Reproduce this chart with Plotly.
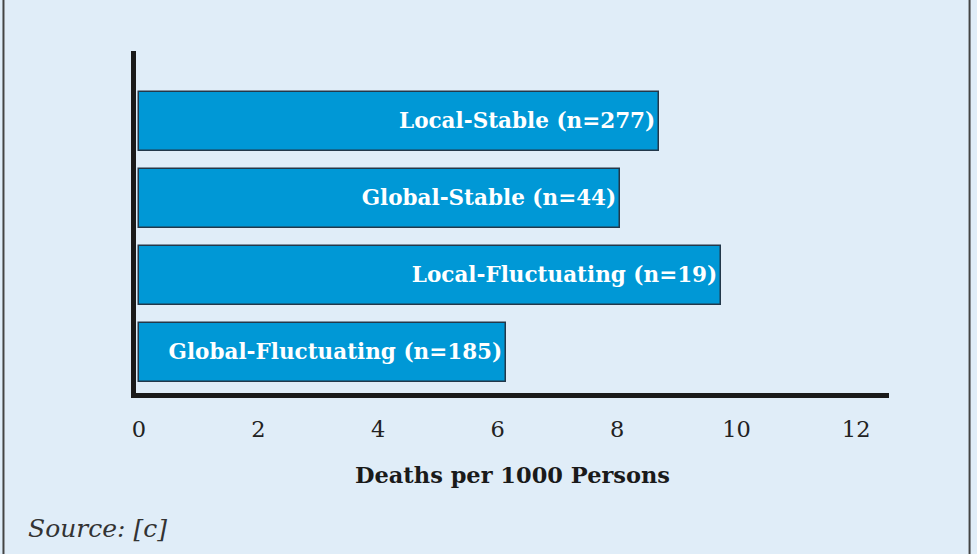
import plotly.graph_objects as go

# bar data, bottom to top as drawn
groups = ['Global-Fluctuating', 'Local-Fluctuating', 'Global-Stable', 'Local-Stable']
sizes = [185, 19, 44, 277]
deaths = [6.14, 9.74, 8.05, 8.70]
tick_vals = [0, 2, 4, 6, 8, 10, 12]

BG = '#e0edf8'
BAR = '#0098d6'
FONT = 'DejaVu Serif'

labels = [f'{g} (n={n})' for g, n in zip(groups, sizes)]

fig = go.Figure()

fig.add_trace(go.Bar(
    x=deaths,
    y=list(range(len(groups))),
    orientation='h',
    width=0.766,
    marker=dict(color=BAR, line=dict(color='#23384a', width=1.5)),
    text=labels,
    textposition='inside',
    insidetextanchor='end',
    textfont=dict(family=FONT, size=21.5, color='white', weight='bold'),
    hoverinfo='skip',
))

fig.update_layout(
    width=977, height=554,
    margin=dict(l=136, r=88, t=51, b=161),
    paper_bgcolor=BG, plot_bgcolor=BG,
    showlegend=False,
    font=dict(family=FONT, color='#222222'),
    bargap=0,
)

fig.update_xaxes(
    range=[-0.05, 12.55],
    tickvals=tick_vals,
    tickfont=dict(size=22.5, color='#222222'),
    showgrid=False, zeroline=False,
    showline=True, linecolor='#1a1a1a', linewidth=5,
    ticks='', ticklabelstandoff=12,
    title=dict(text='Deaths per 1000 Persons',
               font=dict(size=22.5, color='#1a1a1a', weight='bold'), standoff=28),
)
fig.update_yaxes(
    range=[-0.53, 3.915],
    showticklabels=False,
    showgrid=False, zeroline=False,
    showline=True, linecolor='#1a1a1a', linewidth=5,
    ticks='',
)

# source note
fig.add_annotation(
    text='<i>Source: [c]</i>', xref='paper', yref='paper',
    x=-0.146, y=-0.395, xanchor='left', yanchor='middle', showarrow=False,
    font=dict(family=FONT, size=25, color='#333333'),
)

# frame lines at the left and right of the panel
for xp in [-0.176, 1.107]:
    fig.add_shape(type='line', xref='paper', yref='paper',
                  x0=xp, x1=xp, y0=-0.5, y1=1.2,
                  line=dict(color='#444444', width=2))

# drop the browser's default page margin so the figure fills the window
fig.write_html('out.html', config={'displayModeBar': False},
               post_script="document.body.style.margin='0';")
